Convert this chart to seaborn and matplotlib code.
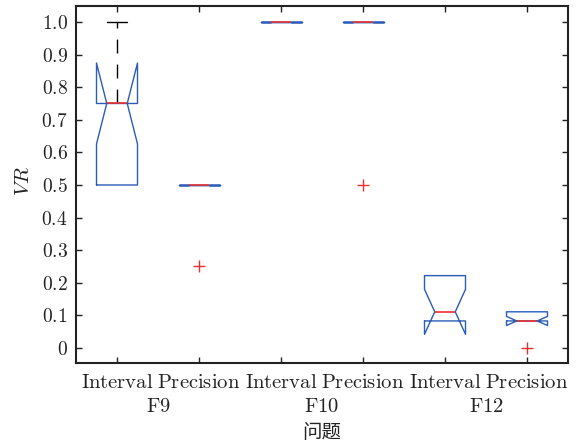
import matplotlib
matplotlib.use("Agg")
import matplotlib.pyplot as plt
import matplotlib.colors as mcolors
import numpy as np
import pandas as pd
import seaborn as sns

# ---- data ----
problems = ["F9", "F10", "F12"]
methods = ["Interval", "Precision"]
vr_f9_interval = [0.5, 0.5, 0.5, 0.5, 0.75, 0.75, 0.75, 0.75, 0.75, 1.0]
vr_f9_precision = [0.25, 0.5, 0.5, 0.5, 0.5, 0.5, 0.5, 0.5, 0.5, 0.5]
vr_f10_interval = [1.0, 1.0, 1.0, 1.0, 1.0, 1.0, 1.0, 1.0, 1.0, 1.0]
vr_f10_precision = [0.5, 1.0, 1.0, 1.0, 1.0, 1.0, 1.0, 1.0, 1.0, 1.0]
vr_f12_interval = [0.083, 0.083, 0.083, 0.083, 0.111, 0.111, 0.222, 0.222, 0.222, 0.222]
vr_f12_precision = [0.0, 0.083, 0.083, 0.083, 0.083, 0.083, 0.111, 0.111, 0.111, 0.111]
yticks = [0, 0.1, 0.2, 0.3, 0.4, 0.5, 0.6, 0.7, 0.8, 0.9, 1.0]
ytick_labels = ["0", "0.1", "0.2", "0.3", "0.4", "0.5", "0.6", "0.7", "0.8", "0.9", "1.0"]

series = {
    ("F9", "Interval"): vr_f9_interval,
    ("F9", "Precision"): vr_f9_precision,
    ("F10", "Interval"): vr_f10_interval,
    ("F10", "Precision"): vr_f10_precision,
    ("F12", "Interval"): vr_f12_interval,
    ("F12", "Precision"): vr_f12_precision,
}
rows = []
order = []
for p in problems:
    for m in methods:
        g = f"{p} {m}"
        order.append(g)
        for v in series[(p, m)]:
            rows.append({"group": g, "VR": v})
df = pd.DataFrame(rows)

BLUE = "#2a5cb8"
RED = "#e8312f"
DARK = "#222222"

sns.set_theme(style="white")
plt.rcParams["font.family"] = ["DejaVu Serif", "Noto Sans CJK SC"]
plt.rcParams["mathtext.fontset"] = "cm"

fig = plt.figure(figsize=(5.79, 4.46), dpi=100)
ax = fig.add_axes([76 / 579, 1 - 363 / 446, (568 - 76) / 579, (363 - 6) / 446])

sns.boxplot(
    data=df, x="group", y="VR", order=order, ax=ax,
    width=0.5, notch=True, fill=False, color=BLUE, linewidth=1.0,
    whis=1.5,
    boxprops=dict(color=BLUE, linewidth=1.0),
    medianprops=dict(color=RED, linewidth=1.2),
    whiskerprops=dict(color="black", linestyle=(0, (10, 8)), linewidth=1.0),
    capprops=dict(color="black", linewidth=1.0),
    flierprops=dict(marker="+", markeredgecolor=RED, markerfacecolor=RED,
                    markersize=8, markeredgewidth=1.0),
)

# hide whiskers/caps of zero length (they sit under the box edge, as in MATLAB)
black = mcolors.to_hex("black")
whiskers = [ln for ln in ax.lines
            if mcolors.to_hex(ln.get_color()) == black and ln.get_linestyle() not in ("-", "None")]
caps = [ln for ln in ax.lines
        if mcolors.to_hex(ln.get_color()) == black and ln.get_linestyle() == "-"]
for w in whiskers:
    wx = np.asarray(w.get_xdata(), float)
    wy = np.asarray(w.get_ydata(), float)
    if np.isclose(wy[0], wy[1]):
        w.set_visible(False)
        for c in caps:
            cx = np.asarray(c.get_xdata(), float)
            cy = np.asarray(c.get_ydata(), float)
            if np.isclose(cx.mean(), wx.mean()) and np.isclose(cy[0], wy[1]):
                c.set_visible(False)
for ln in ax.lines:
    c = mcolors.to_hex(ln.get_color())
    if c == mcolors.to_hex(BLUE):
        ln.set_zorder(3)
    elif c == mcolors.to_hex(RED) and ln.get_linestyle() != "None":
        ln.set_zorder(4)

ax.set_xlim(-0.5, 5.5)
ax.set_ylim(-0.046, 1.049)
ax.set_yticks(yticks)
ax.set_yticklabels([f"${t}$" for t in ytick_labels], fontsize=14)
ax.set_xticks(range(len(order)))
ax.set_xticklabels([f"$\\mathrm{{{m}}}$" for p in problems for m in methods], fontsize=14.8)

ax.tick_params(axis="both", direction="in", length=4.5, width=1.0, color=DARK,
               top=True, right=True, bottom=True, left=True)
ax.tick_params(axis="x", pad=7)
ax.tick_params(axis="y", pad=6)
for s in ax.spines.values():
    s.set_color(DARK)
    s.set_linewidth(1.5)

# group labels under each pair
for i, p in enumerate(problems):
    ax.text(2 * i + 0.5, (363 - 407) / 357, f"$\\mathrm{{{p}}}$",
            transform=ax.get_xaxis_transform(), ha="center", va="center",
            fontsize=14.8, color=DARK)

ax.set_xlabel("问题", fontsize=14, family=["Noto Sans CJK SC", "DejaVu Sans"], color=DARK)
ax.xaxis.set_label_coords(0.5, (363 - 432) / 357)
ax.xaxis.label.set_va("center")
ax.set_ylabel("$VR$", fontsize=15, color=DARK)
ax.yaxis.set_label_coords((23 - 76) / 492, 0.51)
ax.yaxis.label.set_va("center")

for lab in ax.get_xticklabels() + ax.get_yticklabels():
    lab.set_color(DARK)

fig.savefig("out.png", dpi=100)
